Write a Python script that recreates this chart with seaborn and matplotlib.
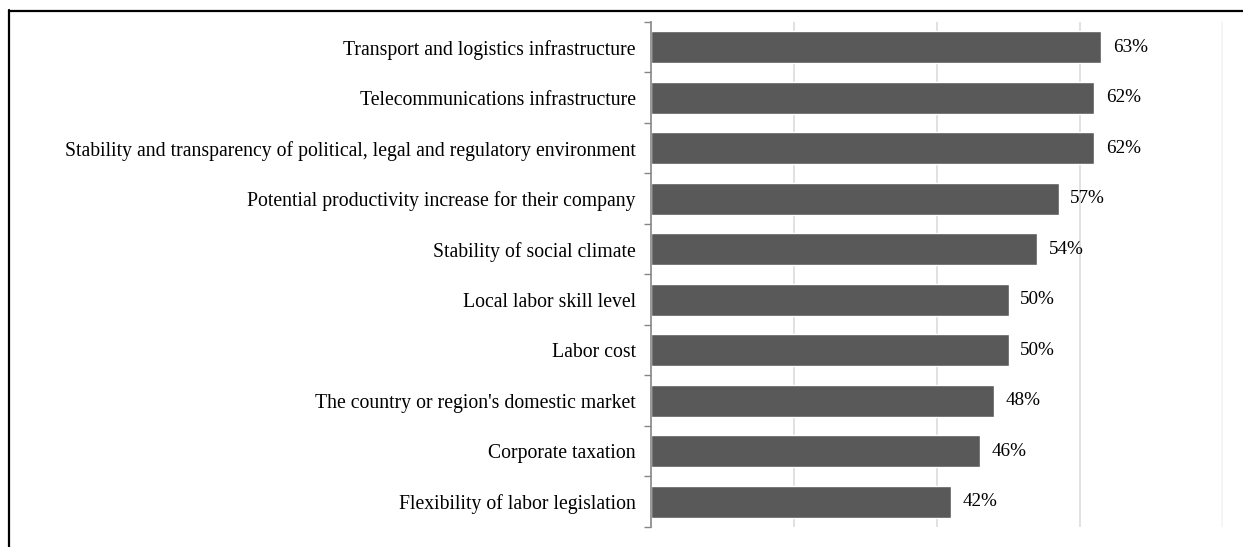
import matplotlib
matplotlib.use("Agg")
import matplotlib.pyplot as plt
import seaborn as sns
import numpy as np
import pandas as pd
from matplotlib.lines import Line2D

categories = [
    "Transport and logistics infrastructure",
    "Telecommunications infrastructure",
    "Stability and transparency of political, legal and regulatory environment",
    "Potential productivity increase for their company",
    "Stability of social climate",
    "Local labor skill level",
    "Labor cost",
    "The country or region's domestic market",
    "Corporate taxation",
    "Flexibility of labor legislation",
]
values = [63, 62, 62, 57, 54, 50, 50, 48, 46, 42]
value_labels = ["63%", "62%", "62%", "57%", "54%", "50%", "50%", "48%", "46%", "42%"]

sns.set_theme(style="white")
plt.rcParams["font.family"] = ["Liberation Serif", "DejaVu Serif"]

W, H = 1243, 547
fig = plt.figure(figsize=(W / 100, H / 100), dpi=100)
ax = fig.add_axes([651 / W, 1 - 527 / H, (1223 - 651) / W, (527 - 22) / H])

df = pd.DataFrame({"category": categories, "value": values})
sns.barplot(data=df, y="category", x="value", orient="h", color="#595959",
            saturation=1, width=0.63, ax=ax)

ax.set_xlim(0, 79.8)
ax.set_ylim(len(categories) - 0.5, -0.5)
ax.set_xlabel("")
ax.set_ylabel("")

# gridlines
ax.set_xticks([0, 20, 40, 60, 80])
ax.set_xticklabels([])
ax.tick_params(axis="x", length=0)
for gx, col in [(20, "#d9d9d9"), (40, "#d9d9d9"), (60, "#d9d9d9"), (79.8, "#f2f2f2")]:
    ax.axvline(gx, color=col, lw=1.1, zorder=0)

# y ticks at category boundaries, labels at centers
ax.set_yticks(np.arange(-0.5, len(categories), 1.0))
ax.set_yticklabels([])
ax.set_yticks(np.arange(len(categories)), minor=True)
ax.set_yticklabels(categories, minor=True, fontsize=14.2, color="#000000")
ax.tick_params(axis="y", which="major", length=5, width=1, color="#868686", left=True)
ax.tick_params(axis="y", which="minor", length=0, pad=11)

for s in ["top", "right", "bottom"]:
    ax.spines[s].set_visible(False)
ax.spines["left"].set_color("#868686")
ax.spines["left"].set_linewidth(1.2)

ax.bar_label(ax.containers[0], labels=value_labels, padding=8.5, fontsize=13.8, color="#000000")

# outer border (clipped at right/bottom like the reference)
fig.add_artist(Line2D([8.5 / W, 8.5 / W], [0, 1 - 10 / H], color="#000000", lw=1.6))
fig.add_artist(Line2D([8.5 / W, 1.0], [1 - 10.5 / H, 1 - 10.5 / H], color="#000000", lw=1.6))

fig.savefig("out.png", dpi=100, facecolor="white")
